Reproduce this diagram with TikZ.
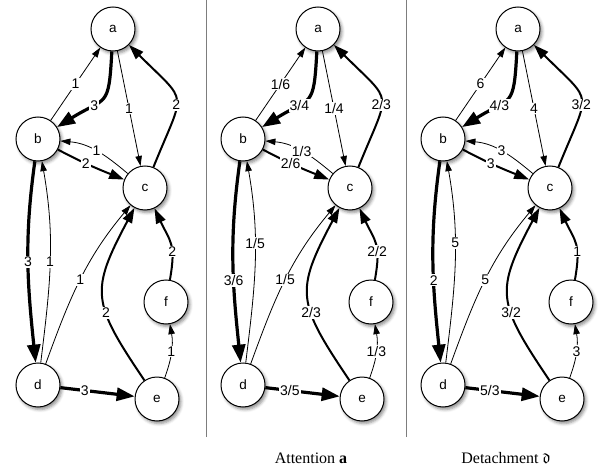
\documentclass[tikz,border=0pt]{standalone}
\usepackage{fontspec}
\usepackage{amssymb}
\setmainfont{Liberation Serif}
\setsansfont{Liberation Sans}
\usepackage{tikz}
\usetikzlibrary{arrows.meta,shadows.blur}
\definecolor{rulegray}{RGB}{125,125,125}
\tikzset{
  vertex/.style={circle,draw,line width=1pt,fill=white,minimum size=44pt,inner sep=0pt,
    font=\sffamily\fontsize{13.5}{15}\selectfont,
    blur shadow={shadow xshift=2pt,shadow yshift=-2.5pt,shadow blur radius=3pt,shadow opacity=45}},
  weight/.style={fill=white,inner sep=1pt,font=\sffamily\fontsize{14}{16}\selectfont},
  lightedge/.style={line width=0.8pt,-{Triangle[length=10pt,width=6.5pt]}},
  midedge/.style={line width=2pt,-{Triangle[length=15pt,width=10pt]}},
  heavyedge/.style={line width=3.2pt,-{Triangle[length=18pt,width=13pt]}},
  caption/.style={anchor=base,font=\fontsize{16}{19}\selectfont},
  divider/.style={rulegray,line width=1pt}
}

\begin{document}
\begin{tikzpicture}[x=1pt,y=1pt]
  \useasboundingbox (0,0) rectangle (601,474);

  \foreach \p/\sx/\pv/\lba/\lab/\lac/\lca/\lcb/\lbc/\lbd/\ldb/\ldc/\lec/\lfc/\lef/\lde in {
    1/0/0.5/1/3/1/2/1/2/3/1/1/2/2/1/3,
    2/205/0.6/{1/6}/{3/4}/{1/4}/{2/3}/{1/3}/{2/6}/{3/6}/{1/5}/{1/5}/{2/3}/{2/2}/{1/3}/{3/5},
    3/405/0.6/6/{4/3}/4/{3/2}/3/3/2/5/5/{3/2}/1/3/{5/3}} {
    \begin{scope}[xshift=\sx]
      \node[vertex] (a\p) at (113,445) {a};
      \node[vertex] (b\p) at (38,335) {b};
      \node[vertex] (c\p) at (145,286) {c};
      \node[vertex] (f\p) at (166,172) {f};
      \node[vertex] (d\p) at (38,89) {d};
      \node[vertex] (e\p) at (157,75) {e};

      \draw[lightedge] (b\p) -- node[weight] {\lba} (a\p);
      \draw[heavyedge] (a\p) to[out=-93,in=32,looseness=1.6] node[weight,pos=0.64] {\lab} (b\p);
      \draw[lightedge] (a\p) -- node[weight] {\lac} (c\p);
      \draw[midedge] (c\p) to[out=68,in=-45,looseness=1.75] node[weight,pos=0.43] {\lca} (a\p);
      \draw[lightedge] (c\p) to[out=140,in=-5] node[weight,pos=0.5] {\lcb} (b\p);
      \draw[midedge] (b\p) to[out=-28,in=158] node[weight,pos=0.42] {\lbc} (c\p);
      \draw[heavyedge] (b\p) to[out=-98,in=96] node[weight,pos=\pv] {\lbd} (d\p);
      \draw[lightedge] (d\p) to[out=83,in=-80] node[weight,pos=\pv] {\ldb} (b\p);
      \draw[lightedge] (d\p) to[out=70,in=-130] node[weight] {\ldc} (c\p);
      \draw[midedge] (e\p) to[out=124,in=-118,looseness=1.4] node[weight,pos=0.38] {\lec} (c\p);
      \draw[midedge] (f\p) to[out=80,in=-65,looseness=1.3] node[weight,pos=0.35] {\lfc} (c\p);
      \draw[lightedge] (e\p) to[out=70,in=-80] node[weight] {\lef} (f\p);
      \draw[heavyedge] (d\p) -- node[weight,pos=0.33] {\lde} (e\p);
    \end{scope}
  }

  \draw[divider] (206.5,37) -- (206.5,474);
  \draw[divider] (406.5,37) -- (406.5,474);

  \node[caption] (capatt) at (311,11) {Attention $\mathbf{a}$};
  \node[caption] (capdet) at (506,11) {Detachment $\mathfrak{d}$};
\end{tikzpicture}
\end{document}
